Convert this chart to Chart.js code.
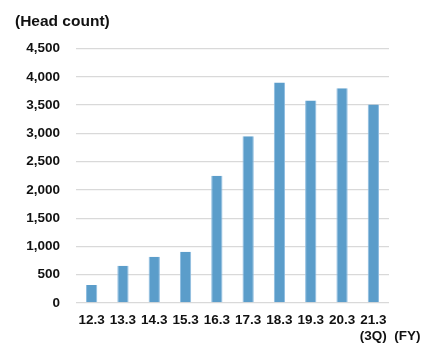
<!DOCTYPE html>
<html>
<head>
<meta charset="utf-8">
<script src="https://cdn.jsdelivr.net/npm/chart.js@4/dist/chart.umd.min.js"></script>
<style>
  html, body { margin: 0; padding: 0; background: #ffffff; }
  #wrap { width: 433px; height: 345px; position: relative; }
</style>
</head>
<body>
<div id="wrap"><canvas id="c" width="433" height="345"></canvas></div>
<script>
// Fiscal year-end labels (the last one is the 3rd quarter of FY21.3)
const categories = ['12.3', '13.3', '14.3', '15.3', '16.3', '17.3', '18.3', '19.3', '20.3', ['21.3', '(3Q)']];
// Head count at each period
const headCount = [320, 660, 820, 905, 2250, 2950, 3900, 3580, 3800, 3510];
// Y axis tick range
const yTicks = { min: 0, max: 4500, step: 500 };

const FONT = "'Liberation Sans', Arial, sans-serif";

// Draws the "(FY)" unit label beside the last category label
const fyLabel = {
  id: 'fyLabel',
  afterDraw(chart) {
    const ctx = chart.ctx;
    const x = chart.scales.x;
    const last = x.getPixelForValue(categories.length - 1);
    ctx.save();
    ctx.font = 'bold 13.5px ' + FONT;
    ctx.fillStyle = '#111111';
    ctx.textAlign = 'left';
    ctx.textBaseline = 'middle';
    ctx.fillText('(FY)', last + 21, 336);
    ctx.restore();
  }
};

new Chart(document.getElementById('c'), {
  type: 'bar',
  data: {
    labels: categories,
    datasets: [{
      data: headCount,
      backgroundColor: '#5B9DCA',
      borderColor: '#8DBCE0',
      borderWidth: { left: 1, right: 1, top: 0, bottom: 0 },
      categoryPercentage: 1,
      barPercentage: 0.36
    }]
  },
  options: {
    responsive: false,
    animation: false,
    layout: { padding: { left: 15, right: 44, top: 4, bottom: 0 } },
    plugins: {
      legend: { display: false },
      tooltip: { enabled: false },
      title: {
        display: true,
        text: '(Head count)',
        align: 'start',
        color: '#111111',
        font: { family: FONT, size: 15.5, weight: 'bold' },
        padding: { top: 8, bottom: 18 }
      }
    },
    scales: {
      x: {
        grid: { display: false, drawTicks: false },
        border: { display: false },
        ticks: {
          color: '#111111',
          font: { family: FONT, size: 13.5, weight: 'bold' },
          maxRotation: 0,
          autoSkip: false,
          padding: 9
        },
        afterFit(scale) { scale.height = 42; }
      },
      y: {
        min: yTicks.min,
        max: yTicks.max,
        grid: { color: '#d9d9d9', lineWidth: 1.3, drawTicks: false },
        border: { display: false },
        ticks: {
          stepSize: yTicks.step,
          color: '#111111',
          font: { family: FONT, size: 13.5, weight: 'bold' },
          padding: 16,
          callback: v => v.toLocaleString('en-US')
        },
        afterFit(scale) { scale.width = 61; }
      }
    }
  },
  plugins: [fyLabel]
});
</script>
</body>
</html>
